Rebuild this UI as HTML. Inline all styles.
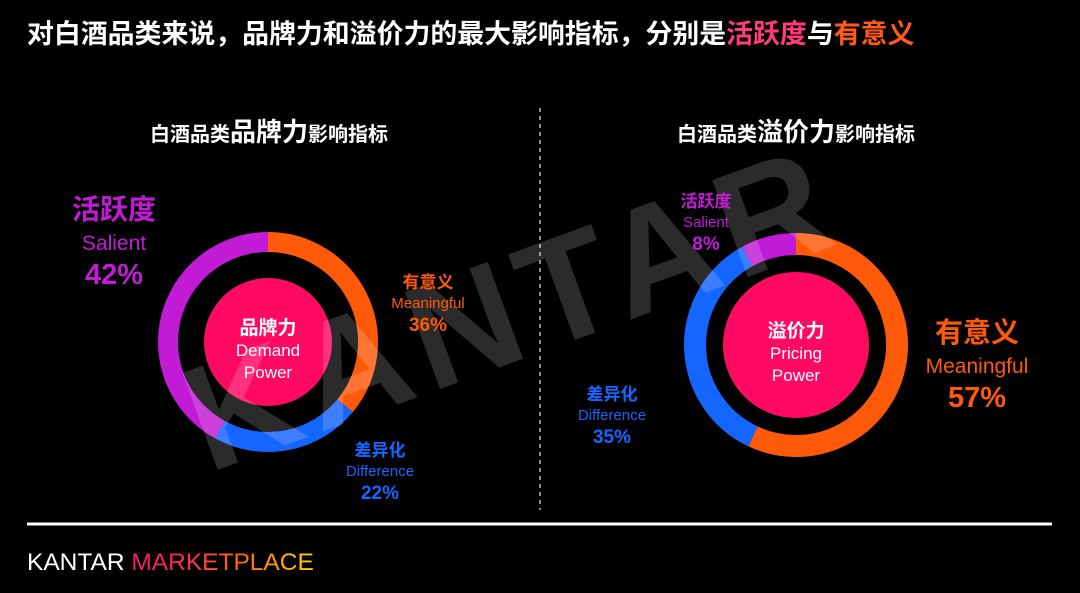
<!DOCTYPE html>
<html><head><meta charset="utf-8">
<style>
html,body{margin:0;padding:0;background:#000;}
body{width:1080px;height:588px;overflow:hidden;position:relative;font-family:"Liberation Sans","Noto Sans CJK SC",sans-serif;}
svg text{font-family:"Liberation Sans","Noto Sans CJK SC",sans-serif;}
</style></head><body>
<svg id="chart" width="1080" height="588" viewBox="0 0 1080 588">
  <defs>
    <linearGradient id="mkt" x1="0" x2="1" y1="0" y2="0">
      <stop offset="0" stop-color="#c21bd6"/><stop offset="0.5" stop-color="#ff1f5a"/><stop offset="0.75" stop-color="#ff6a13"/><stop offset="1" stop-color="#ffd200"/>
    </linearGradient>
  </defs>
  <text x="27" y="43" font-size="26.9" font-weight="bold" fill="#fff">对白酒品类来说，品牌力和溢价力的最大影响指标，分别是<tspan fill="#ff3b7a">活跃度</tspan>与<tspan fill="#ff5a1a">有意义</tspan></text>
  <line x1="540" y1="108" x2="540" y2="510" stroke="#bbb" stroke-width="1.5" stroke-dasharray="4,4"/>
  <text x="269" y="141" text-anchor="middle" font-size="20" font-weight="bold" fill="#fff">白酒品类<tspan font-size="26">品牌力</tspan>影响指标</text>
  <text x="796" y="141" text-anchor="middle" font-size="20" font-weight="bold" fill="#fff">白酒品类<tspan font-size="26">溢价力</tspan>影响指标</text>
  <g id="donuts"></g>
  <text x="510" y="360" text-anchor="middle" font-size="150" font-weight="bold" fill="#fff" fill-opacity="0.17" transform="rotate(-20 510 305)" letter-spacing="10">KANTAR</text>
  <g id="labels"></g>
  <line x1="27" y1="524" x2="1052" y2="524" stroke="#fff" stroke-width="3"/>
  <text x="27" y="570" font-size="24.5" fill="#fff">KANTAR <tspan fill="url(#mkt)">MARKETPLACE</tspan></text>
</svg>
<script>
const categories = ["Meaningful", "Difference", "Salient"];
const demandValues = [36, 22, 42];
const pricingValues = [57, 35, 8];
const colors = ["#ff5a0a", "#1466ff", "#c21bd6"];
const NS = "http://www.w3.org/2000/svg";
function angle(pct){ return pct/100*2*Math.PI - Math.PI/2; }
function pt(cx,cy,r,a){ return [cx+r*Math.cos(a), cy+r*Math.sin(a)]; }
function donut(cx,cy,r,w,values,name,centerTitle,l1,l2,rIn){
  const g=document.getElementById('donuts');
  let cum=0; const tot=values.reduce((a,b)=>a+b,0);
  values.forEach((v,i)=>{
    const a0=angle(cum/tot*100), a1=angle((cum+v)/tot*100); cum+=v;
    const [x0,y0]=pt(cx,cy,r,a0),[x1,y1]=pt(cx,cy,r,a1);
    const p=document.createElementNS(NS,'path');
    p.setAttribute('d',`M${x0} ${y0} A${r} ${r} 0 ${a1-a0>Math.PI?1:0} 1 ${x1} ${y1}`);
    p.setAttribute('fill','none');p.setAttribute('stroke',colors[i]);p.setAttribute('stroke-width',w);
    
    
    g.appendChild(p);
  });
  const c=document.createElementNS(NS,'circle');
  c.setAttribute('cx',cx);c.setAttribute('cy',cy);c.setAttribute('r',rIn);c.setAttribute('fill','#ff0a63');
  
  
  g.appendChild(c);
  [[centerTitle,-8,19,'bold'],[l1,14,17,'normal'],[l2,36,17,'normal']].forEach(([t,dy,fs,fw])=>{
    const e=document.createElementNS(NS,'text');
    e.setAttribute('x',cx);e.setAttribute('y',cy+dy);e.setAttribute('text-anchor','middle');
    e.setAttribute('font-size',fs);e.setAttribute('font-weight',fw);e.setAttribute('fill','#fff');
    e.textContent=t;
    
    
    g.appendChild(e);
  });
}
donut(268,342,100,20,demandValues,'demand','品牌力','Demand','Power',64);
donut(796,345,101,22,pricingValues,'pricing','溢价力','Pricing','Power',73);
const cn={Meaningful:'有意义',Difference:'差异化',Salient:'活跃度'};
function label(x,y,cat,val,color,big,name){
  const g=document.getElementById('labels');
  const s=big?[28,21,29]:[17,15,19]; const gap=big?[0,31,65]:[0,20,43];
  [[cn[cat],s[0],'bold'],[cat,s[1],'normal'],[val+'%',s[2],'bold']].forEach(([t,fs,fw],k)=>{
    const e=document.createElementNS(NS,'text');
    e.setAttribute('x',x);e.setAttribute('y',y+gap[k]);e.setAttribute('text-anchor','middle');
    e.setAttribute('font-size',fs);e.setAttribute('font-weight',fw);e.setAttribute('fill',color);
    e.textContent=t;
    
    
    g.appendChild(e);
  });
}
label(114,219,'Salient',demandValues[2],colors[2],true,'demand-salient-label');
label(428,288,'Meaningful',demandValues[0],colors[0],false,'demand-meaningful-label');
label(380,456,'Difference',demandValues[1],colors[1],false,'demand-difference-label');
label(706,207,'Salient',pricingValues[2],colors[2],false,'pricing-salient-label');
label(612,400,'Difference',pricingValues[1],colors[1],false,'pricing-difference-label');
label(977,342,'Meaningful',pricingValues[0],colors[0],true,'pricing-meaningful-label');
</script>
</body></html>
